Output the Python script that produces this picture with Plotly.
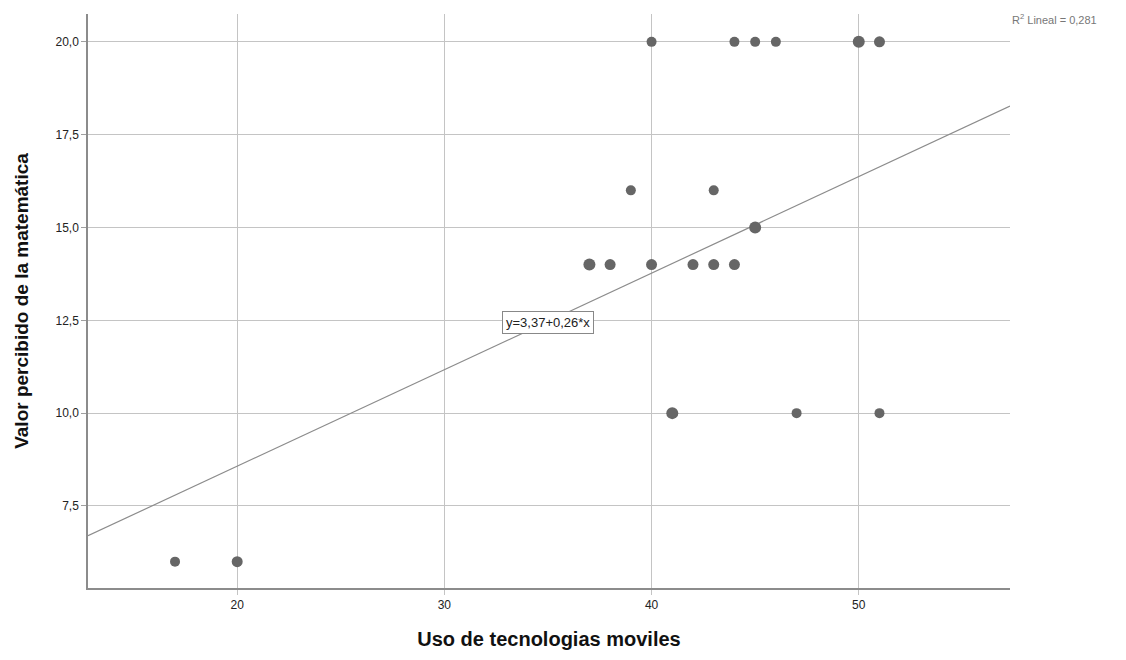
import plotly.graph_objects as go

uso = [17, 20, 37, 38, 39, 40, 40, 41, 42, 43, 43, 44, 44, 45, 45, 46, 47, 50, 51, 51]
valor = [6, 6, 14, 14, 16, 20, 14, 10, 14, 16, 14, 20, 14, 20, 15, 20, 10, 20, 20, 10]
msize = [10, 11, 12, 11, 10, 10, 11, 12, 11, 10, 11, 10, 11, 10, 12, 10, 10, 12, 11, 10]
intercept, slope = 3.37, 0.26
x_range = [12.8, 57.3]
y_range = [5.29, 20.75]
x_ticks = [20, 30, 40, 50]
y_ticks = [7.5, 10.0, 12.5, 15.0, 17.5, 20.0]
y_tick_labels = ["7,5", "10,0", "12,5", "15,0", "17,5", "20,0"]

fig = go.Figure()
fig.add_trace(go.Scatter(
    x=x_range, y=[intercept + slope * v for v in x_range], mode="lines",
    line=dict(color="#8c8c8c", width=1.2), hoverinfo="skip", showlegend=False))
fig.add_trace(go.Scatter(
    x=uso, y=valor, mode="markers",
    marker=dict(color="#666666", size=msize, opacity=1, line=dict(width=0)), showlegend=False))

fig.add_annotation(x=35.0, y=12.45, xref="x", yref="y", text="y=3,37+0,26*x",
                   showarrow=False, font=dict(family="Liberation Sans, Arial", size=13, color="#222"),
                   bgcolor="white", bordercolor="#888", borderwidth=1, borderpad=3)
fig.add_annotation(x=1.0, y=1.0, xref="paper", yref="paper", text="R<sup>2</sup> Lineal = 0,281",
                   showarrow=False, xanchor="left", yanchor="bottom", xshift=0, yshift=-14,
                   font=dict(family="Liberation Sans, Arial", size=11, color="#777"))

fig.update_layout(
    width=1126, height=660,
    margin=dict(l=88, r=116, t=14, b=72),
    plot_bgcolor="white", paper_bgcolor="white",
    font=dict(family="Liberation Sans, Arial", size=12, color="#222"),
    xaxis=dict(range=x_range, tickvals=x_ticks, showgrid=True, gridcolor="#c4c4c4", gridwidth=1,
               showline=True, linecolor="#8c8c8c", linewidth=1.5, zeroline=False,
               ticks="outside", ticklen=5, tickcolor="#c4c4c4",
               title=dict(text="<b>Uso de tecnologias moviles</b>", font=dict(size=20, color="#111"), standoff=21)),
    yaxis=dict(range=y_range, tickvals=y_ticks, ticktext=y_tick_labels, showgrid=True, gridcolor="#c4c4c4",
               gridwidth=1, showline=True, linecolor="#8c8c8c", linewidth=1.5, zeroline=False,
               ticks="outside", ticklen=5, tickcolor="#a0a0a0",
               title=dict(text="<b>Valor percibido de la matemática</b>", font=dict(size=19, color="#111"), standoff=22)),
)

fig.write_html("out.html")
